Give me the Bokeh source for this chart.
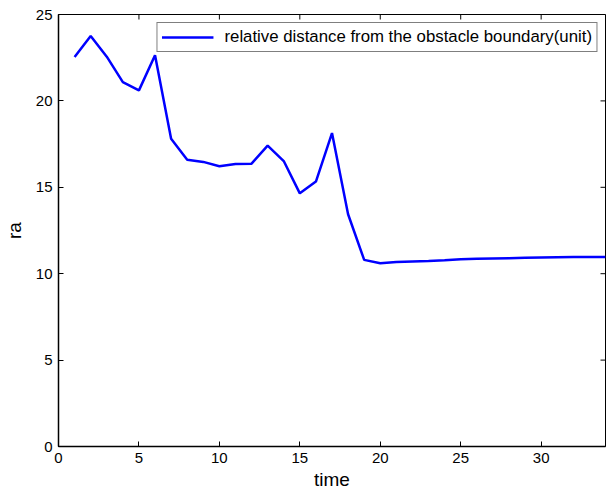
import math
from bokeh.plotting import figure
from bokeh.models import Range1d, Legend, LegendItem, FixedTicker
from bokeh.embed import file_html
from bokeh.resources import INLINE

time = [1, 2, 3, 4, 5, 6, 7, 8, 9, 10, 11, 12, 13, 14, 15, 16, 17, 18, 19, 20,
        21, 22, 23, 24, 25, 26, 27, 28, 29, 30, 31, 32, 33, 34]
ra = [22.54, 23.75, 22.56, 21.09, 20.61, 22.64, 17.81, 16.60, 16.47, 16.22,
      16.35, 16.37, 17.41, 16.52, 14.65, 15.33, 18.14, 13.44, 10.80, 10.60,
      10.68, 10.71, 10.74, 10.78, 10.83, 10.86, 10.88, 10.90, 10.92, 10.94,
      10.95, 10.96, 10.96, 10.97]
x_ticks = [0, 5, 10, 15, 20, 25, 30]
y_ticks = [0, 5, 10, 15, 20, 25]
x_min, x_max = 0, 34
y_min, y_max = 0, 25
legend_label = "relative distance from the obstacle boundary(unit)"

FONT = "Liberation Sans"

p = figure(width=608, height=495, output_backend="svg", toolbar_location=None,
           x_range=Range1d(x_min, x_max), y_range=Range1d(y_min, y_max),
           min_border_left=58, min_border_right=3, min_border_top=14, min_border_bottom=49,
           x_axis_label="time", y_axis_label="ra")
p.grid.visible = False
p.outline_line_color = "black"
p.outline_line_width = 1
p.background_fill_color = "white"
p.border_fill_color = "white"

r = p.line(time, ra, line_color="#0000FF", line_width=2.5)

# inward ticks on the top and right edges of the box (clipped to the frame)
p.scatter(x=x_ticks, y=[y_max] * len(x_ticks), marker="dash", size=10,
          angle=math.pi / 2, line_color="black", line_width=1)
p.scatter(x=[x_max] * len(y_ticks), y=y_ticks, marker="dash", size=10,
          line_color="black", line_width=1)

for ax in (p.xaxis[0], p.yaxis[0]):
    ax.major_tick_in = 5
    ax.major_tick_out = 0
    ax.minor_tick_line_color = None
    ax.axis_line_width = 1.5
    ax.axis_line_color = "black"
    ax.major_tick_line_color = "black"
    ax.major_label_text_font = FONT
    ax.major_label_text_font_size = "15px"
    ax.major_label_text_color = "black"
    ax.axis_label_text_font = FONT
    ax.axis_label_text_font_size = "19px"
    ax.axis_label_text_font_style = "normal"
    ax.axis_label_text_color = "black"

p.xaxis[0].ticker = FixedTicker(ticks=x_ticks)
p.yaxis[0].ticker = FixedTicker(ticks=y_ticks)
p.xaxis[0].major_label_standoff = 6
p.yaxis[0].major_label_standoff = 6
p.xaxis[0].axis_label_standoff = 3
p.yaxis[0].axis_label_standoff = 8

legend = Legend(items=[LegendItem(label=legend_label, renderers=[r])],
                location="top_right")
legend.label_text_font = FONT
legend.label_text_font_size = "16.8px"
legend.label_text_color = "black"
legend.border_line_color = "black"
legend.border_line_width = 1
legend.margin = 8
legend.padding = 4
legend.glyph_width = 52
legend.glyph_height = 16
legend.label_height = 16
legend.label_standoff = 11
legend.spacing = 0
p.add_layout(legend, "center")

open("out.html", "w").write(file_html(p, INLINE))
